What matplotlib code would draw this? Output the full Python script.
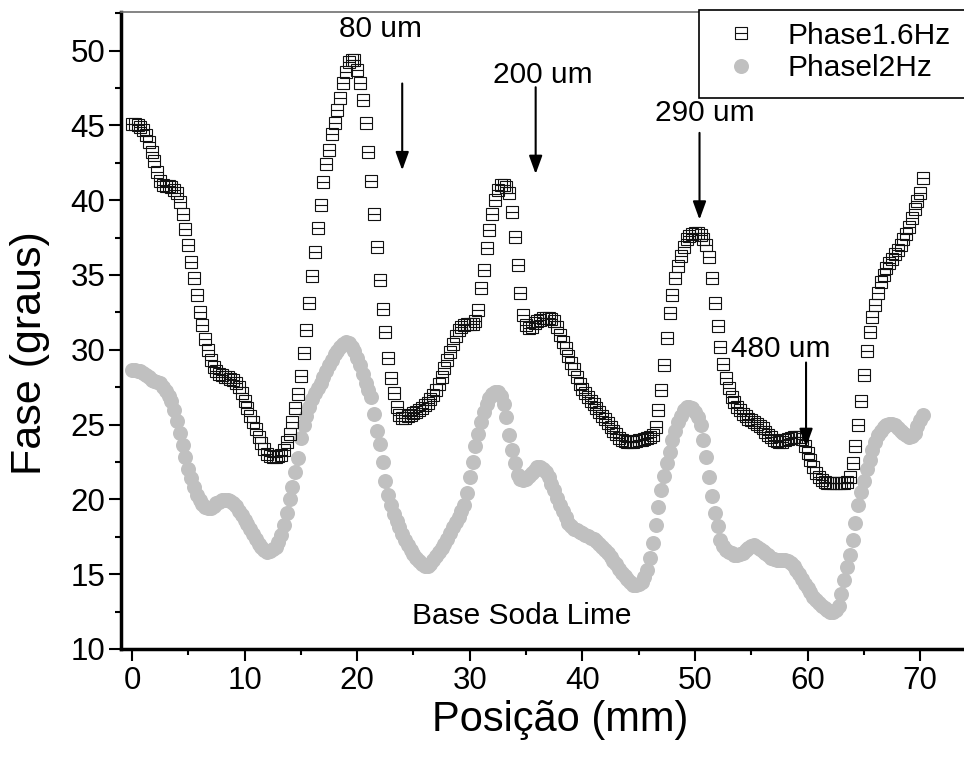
import numpy as np
import matplotlib
matplotlib.use('Agg')
import matplotlib.pyplot as plt
from matplotlib.ticker import MultipleLocator
from matplotlib.legend_handler import HandlerTuple
from matplotlib.patches import Rectangle

plt.rcParams['font.family'] = ['Liberation Sans', 'DejaVu Sans']

# posição (mm), amostrada a cada 0.25 mm
posicao = np.arange(0, 70.26, 0.25)

fase_16hz = [
    45.1, 45.1, 45.0, 44.9, 44.7, 44.35, 43.9, 43.2, 42.6, 41.9, 41.25, 41.0,
    40.95, 40.95, 40.85, 40.7, 40.45, 39.9, 39.1, 38.1, 37.0, 35.9, 34.8, 33.65,
    32.55, 31.65, 30.75, 30.0, 29.3, 28.85, 28.55, 28.4, 28.3, 28.2, 28.15, 28.05,
    27.95, 27.8, 27.5, 27.1, 26.6, 26.1, 25.6, 25.15, 24.7, 24.2, 23.75, 23.35,
    23.05, 22.9, 22.85, 22.85, 22.9, 22.97, 23.3, 23.85, 24.4, 25.2, 26.1, 27.05,
    28.25, 29.77, 31.3, 33.1, 34.9, 36.55, 38.15, 39.7, 41.2, 42.45, 43.35, 44.4,
    45.15, 46.05, 46.8, 47.8, 48.6, 49.25, 49.4, 49.35, 48.7, 47.85, 46.7, 45.15,
    43.25, 41.25, 39.1, 36.9, 34.65, 32.75, 31.2, 29.45, 28.1, 27.1, 26.2, 25.65,
    25.45, 25.45, 25.55, 25.65, 25.75, 25.85, 26.0, 26.1, 26.3, 26.45, 26.7, 26.95,
    27.3, 27.7, 28.2, 28.75, 29.3, 29.85, 30.4, 30.95, 31.3, 31.5, 31.65, 31.7,
    31.7, 31.75, 31.9, 32.66, 34.1, 35.33, 36.8, 38.0, 39.1, 40.0, 40.67, 41.0,
    41.0, 40.9, 40.45, 39.24, 37.57, 35.67, 33.78, 32.33, 31.66, 31.44, 31.5, 31.77,
    31.9, 32.0, 32.1, 32.1, 32.1, 32.05, 31.9, 31.55, 31.0, 30.5, 30.1, 29.6,
    29.15, 28.7, 28.2, 27.7, 27.4, 27.1, 26.85, 26.55, 26.35, 26.1, 25.85, 25.6,
    25.35, 25.1, 24.85, 24.6, 24.35, 24.1, 23.97, 23.9, 23.86, 23.86, 23.86, 23.9,
    23.95, 24.0, 24.05, 24.1, 24.15, 24.3, 24.87, 25.98, 27.3, 28.98, 30.77, 32.43,
    33.66, 34.77, 35.6, 36.27, 36.9, 37.38, 37.6, 37.77, 37.83, 37.83, 37.7, 37.4,
    37.0, 36.18, 34.77, 33.1, 31.6, 30.2, 29.05, 28.1, 27.42, 26.87, 26.5, 26.2,
    25.95, 25.7, 25.55, 25.4, 25.3, 25.2, 25.05, 24.9, 24.75, 24.5, 24.3, 24.15,
    24.0, 23.9, 23.86, 23.86, 23.95, 24.05, 24.1, 24.15, 24.2, 24.15, 24.05, 23.55,
    23.1, 22.6, 22.15, 21.75, 21.5, 21.3, 21.15, 21.1, 21.08, 21.08, 21.08, 21.08,
    21.08, 21.1, 21.15, 21.5, 22.4, 23.6, 25.0, 26.6, 28.3, 29.9, 31.2, 32.2,
    33.0, 33.8, 34.5, 35.0, 35.5, 35.8, 36.05, 36.4, 36.7, 37.0, 37.4, 37.75,
    38.2, 38.8, 39.4, 39.95, 40.5, 41.45,
]

fase_12hz = [
    28.65, 28.65, 28.6, 28.55, 28.45, 28.3, 28.15, 28.0, 27.9, 27.85, 27.75, 27.5,
    27.25, 26.9, 26.55, 26.0, 25.25, 24.45, 23.65, 22.85, 22.05, 21.4, 20.85, 20.3,
    19.95, 19.7, 19.5, 19.4, 19.45, 19.55, 19.75, 19.85, 19.95, 19.97, 19.95, 19.9,
    19.75, 19.55, 19.25, 18.95, 18.65, 18.35, 18.0, 17.7, 17.35, 17.05, 16.85, 16.65,
    16.5, 16.55, 16.68, 16.85, 17.15, 17.65, 18.3, 19.1, 20.0, 20.8, 21.8, 22.8,
    24.1, 24.95, 25.6, 26.2, 26.7, 27.1, 27.45, 27.8, 28.2, 28.6, 28.95, 29.35,
    29.7, 29.95, 30.2, 30.4, 30.55, 30.45, 30.2, 29.9, 29.45, 29.0, 28.4, 27.75,
    27.3, 26.85, 25.7, 24.55, 23.7, 22.5, 21.25, 20.3, 19.6, 19.0, 18.55, 18.15,
    17.7, 17.3, 16.95, 16.65, 16.35, 16.1, 15.85, 15.65, 15.55, 15.55, 15.7, 15.95,
    16.2, 16.5, 16.75, 17.0, 17.35, 17.75, 18.15, 18.5, 18.85, 19.2, 19.65, 20.45,
    21.5, 22.5, 23.6, 24.4, 25.15, 25.85, 26.4, 26.8, 27.05, 27.2, 27.15, 26.9,
    26.4, 25.5, 24.3, 23.3, 22.4, 21.6, 21.35, 21.3, 21.35, 21.55, 21.75, 21.95,
    22.15, 22.15, 22.05, 21.85, 21.5, 21.0, 20.6, 20.1, 19.65, 19.2, 18.8, 18.45,
    18.2, 18.05, 17.95, 17.85, 17.75, 17.65, 17.55, 17.45, 17.35, 17.2, 17.05, 16.85,
    16.65, 16.4, 16.15, 15.9, 15.65, 15.35, 15.05, 14.85, 14.65, 14.45, 14.3, 14.3,
    14.35, 14.5, 14.8, 15.3, 16.05, 17.1, 18.3, 19.5, 20.6, 21.55, 22.4, 23.2,
    23.95, 24.6, 25.15, 25.6, 25.95, 26.15, 26.2, 26.1, 25.85, 25.5, 24.95, 23.97,
    22.85, 21.52, 20.2, 19.1, 18.2, 17.3, 16.9, 16.65, 16.5, 16.4, 16.3, 16.28,
    16.35, 16.45, 16.6, 16.75, 16.9, 16.95, 16.85, 16.7, 16.55, 16.4, 16.25, 16.1,
    16.0, 15.97, 15.95, 15.95, 15.95, 15.9, 15.75, 15.55, 15.3, 15.0, 14.7, 14.35,
    14.05, 13.8, 13.5, 13.3, 13.05, 12.9, 12.75, 12.6, 12.5, 12.5, 12.6, 12.85,
    13.7, 14.6, 15.5, 16.3, 17.3, 18.4, 19.6, 20.5, 21.25, 22.0, 22.65, 23.3,
    23.85, 24.3, 24.6, 24.85, 24.95, 25.05, 25.05, 24.95, 24.8, 24.6, 24.45, 24.3,
    24.2, 24.25, 24.45, 24.9, 25.3, 25.65,
]

# anotações: texto, posição do texto, x da seta, y inicial e final da seta
anot_texto = ['80 um', '200 um', '290 um', '480 um']
anot_xy = [(22.1, 51.45), (36.45, 48.4), (50.9, 45.8), (57.6, 30.05)]
seta_x = [24.0, 35.85, 50.4, 59.86]
seta_y0 = [47.8, 47.55, 44.5, 29.15]
seta_y1 = [42.0, 41.75, 38.7, 23.5]

fig = plt.figure(figsize=(9.64, 7.58), dpi=100)
ax = fig.add_axes([0.1252, 0.1438, 0.8878, 0.8404])

circ, = ax.plot(posicao, fase_12hz, ls='none', marker='o', ms=10.8,
                mfc='#c0c0c0', mec='#c0c0c0', mew=0, zorder=2)
sq, = ax.plot(posicao, fase_16hz, ls='none', marker='s', ms=8.6,
              mfc='none', mec='#111111', mew=0.8, zorder=3)
hl, = ax.plot(posicao, fase_16hz, ls='none', marker='_', ms=8.6,
              mec='#111111', mew=0.8, zorder=3)

for txt, (tx, ty), sx, y0, y1 in zip(anot_texto, anot_xy, seta_x, seta_y0, seta_y1):
    ax.text(tx, ty, txt, fontsize=21.5, ha='center', va='center')
    ax.annotate('', xy=(sx, y1), xytext=(sx, y0),
                arrowprops=dict(arrowstyle='-|>,head_length=0.55,head_width=0.2',
                                color='k', lw=1.5, shrinkA=0, shrinkB=0,
                                mutation_scale=20))

ax.text(34.64, 12.2, 'Base Soda Lime', fontsize=21.5, ha='center', va='center')

ax.set_xlim(-1, 75)
ax.set_ylim(10, 52.58)
ax.xaxis.set_major_locator(MultipleLocator(10))
ax.xaxis.set_minor_locator(MultipleLocator(5))
ax.yaxis.set_major_locator(MultipleLocator(5))
ax.yaxis.set_minor_locator(MultipleLocator(2.5))
ax.tick_params(which='major', direction='out', length=8.5, width=1.5,
               labelsize=22.5)
ax.tick_params(axis='x', which='major', pad=4)
ax.tick_params(axis='y', which='major', pad=2.5)
ax.tick_params(which='minor', direction='out', length=4.5, width=1.5)
ax.tick_params(top=False, right=False, which='both')

ax.spines['left'].set_linewidth(2.5)
ax.spines['bottom'].set_linewidth(2.5)
ax.spines['top'].set_linewidth(1.2)
ax.spines['top'].set_color('#707070')
ax.spines['right'].set_visible(False)

ax.set_xlabel('Posição (mm)', fontsize=30)
ax.set_ylabel('Fase (graus)', fontsize=31)
ax.xaxis.label.set_va('center')
ax.yaxis.label.set_va('center')
ax.xaxis.set_label_coords((560 - 120.7) / 855.8, (649 - 720) / 637)
ax.yaxis.set_label_coords((30 - 120.7) / 855.8, (649 - 353) / 637)

# caixa da legenda (continua além da borda direita, como no original)
fig.patches.append(Rectangle((699 / 964, (758 - 98) / 758), 300 / 964, 88 / 758,
                             transform=fig.transFigure, facecolor='white',
                             edgecolor='k', linewidth=1.2, zorder=4))
leg = fig.legend([(sq, hl), circ], ['Phase1.6Hz', 'Phasel2Hz'],
                 handler_map={tuple: HandlerTuple(ndivide=1)},
                 loc='upper left', bbox_to_anchor=(699 / 964, 1 - 10 / 758),
                 borderaxespad=0, fontsize=21.5, numpoints=1, handlelength=2.0,
                 handletextpad=0.55, borderpad=0.4, labelspacing=0.15,
                 frameon=False)
leg.set_zorder(5)

fig.savefig('out.png', dpi=100)
